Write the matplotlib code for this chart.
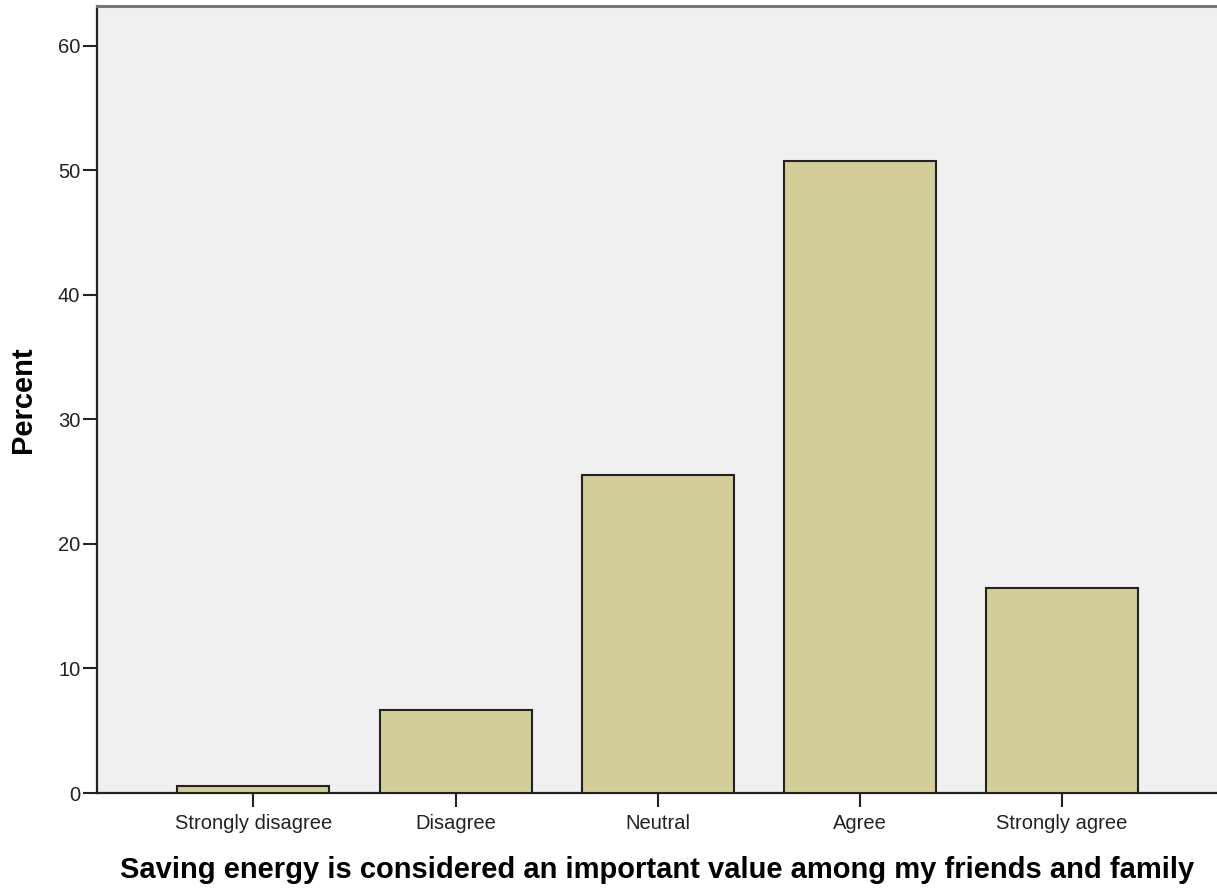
import matplotlib
matplotlib.use("Agg")
import matplotlib.pyplot as plt

categories = ["Strongly disagree", "Disagree", "Neutral", "Agree", "Strongly agree"]
percent = [0.56, 6.67, 25.5, 50.75, 16.45]
yticks = [0, 10, 20, 30, 40, 50, 60]

plt.rcParams['font.family'] = ['Liberation Sans', 'DejaVu Sans']

fig = plt.figure(figsize=(12.17, 8.88), dpi=100)
ax = fig.add_axes([97/1217, 1 - 793/888, (1217-97)/1217, (793-6)/888])
ax.set_facecolor('#F0F0F0')

x = list(range(len(categories)))
ax.bar(x, percent, width=0.752, color='#D3CE97', edgecolor='#222222', linewidth=1.5, zorder=3)

ax.set_xlim(-0.774, 4.767)
ax.set_ylim(0, 63.2)
ax.set_yticks(yticks)
ax.set_xticks(x)
ax.set_xticklabels(categories, fontsize=14.5)
ax.tick_params(axis='y', labelsize=14.5, length=10, width=1.5, color='#222222', pad=2, labelcolor='#222222')
ax.tick_params(axis='x', length=10, width=1.5, color='#222222', pad=5, labelcolor='#222222')

ax.spines['right'].set_visible(False)
ax.spines['left'].set_color('#222222')
ax.spines['left'].set_linewidth(1.6)
ax.spines['bottom'].set_color('#222222')
ax.spines['bottom'].set_linewidth(1.6)
ax.spines['top'].set_color('#777777')
ax.spines['top'].set_linewidth(2.2)

ax.set_ylabel("Percent", fontsize=21, fontweight='bold', labelpad=15)
ax.set_xlabel("Saving energy is considered an important value among my friends and family",
              fontsize=21, fontweight='bold', labelpad=17)

fig.savefig("out.png", dpi=100)
